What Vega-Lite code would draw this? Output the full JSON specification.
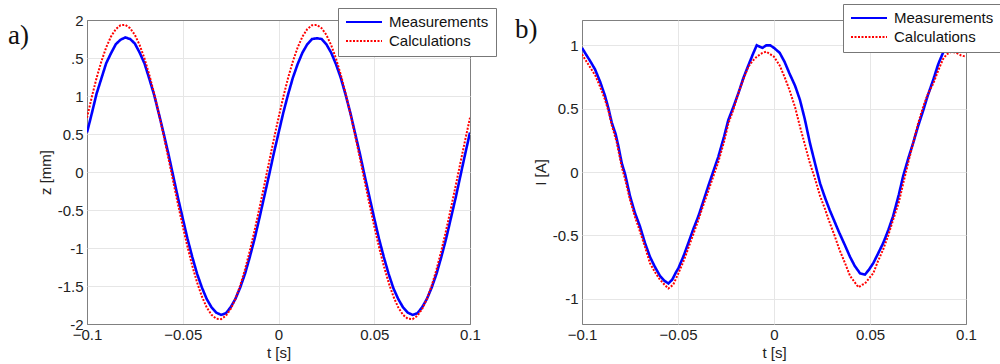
{
"$schema": "https://vega.github.io/schema/vega-lite/v6.json",
"background": "white",
"padding": {"left": 7, "top": 3, "right": 1, "bottom": 0},
"spacing": 112,
"bounds": "flush",
"resolve": {"scale": {"color": "independent", "strokeDash": "independent"}, "legend": {"color": "independent", "strokeDash": "independent"}},
"config": {
  "font": "Liberation Sans",
  "view": {"stroke": "#808080", "strokeWidth": 1},
  "axis": {"labelFont": "Liberation Sans", "labelFontSize": 15, "labelColor": "#222", "titleFont": "Liberation Sans", "titleFontSize": 15, "titleFontWeight": "normal", "titleColor": "#222", "grid": true, "gridWidth": 1, "ticks": false, "domain": false, "labelPadding": 4, "titlePadding": 4, "labelFlush": false, "labelOverlap": false},
  "axisX": {"labelPadding": 3, "titlePadding": 3},
  "legend": {"labelFont": "Liberation Sans", "labelFontSize": 15, "labelColor": "#111", "strokeColor": "#777", "fillColor": "white", "padding": 7, "rowPadding": 4, "clipHeight": 14, "symbolType": "stroke", "symbolSize": 1296, "symbolStrokeWidth": 2, "labelOffset": 6, "cornerRadius": 0}
},
"datasets": {
"za": [
{"t":-0.1,"v":0.52,"s":"Measurements"},{"t":-0.0975,"v":0.77,"s":"Measurements"},{"t":-0.095,"v":1.03,"s":"Measurements"},{"t":-0.0925,"v":1.23,"s":"Measurements"},{"t":-0.09,"v":1.43,"s":"Measurements"},{"t":-0.0875,"v":1.56,"s":"Measurements"},{"t":-0.085,"v":1.68,"s":"Measurements"},{"t":-0.0825,"v":1.74,"s":"Measurements"},{"t":-0.08,"v":1.77,"s":"Measurements"},{"t":-0.0775,"v":1.75,"s":"Measurements"},{"t":-0.075,"v":1.69,"s":"Measurements"},{"t":-0.0725,"v":1.57,"s":"Measurements"},{"t":-0.07,"v":1.43,"s":"Measurements"},{"t":-0.0675,"v":1.23,"s":"Measurements"},{"t":-0.065,"v":1.02,"s":"Measurements"},{"t":-0.0625,"v":0.77,"s":"Measurements"},{"t":-0.06,"v":0.51,"s":"Measurements"},{"t":-0.0575,"v":0.24,"s":"Measurements"},{"t":-0.055,"v":-0.05,"s":"Measurements"},{"t":-0.0525,"v":-0.34,"s":"Measurements"},{"t":-0.05,"v":-0.61,"s":"Measurements"},{"t":-0.0475,"v":-0.88,"s":"Measurements"},{"t":-0.045,"v":-1.12,"s":"Measurements"},{"t":-0.0425,"v":-1.34,"s":"Measurements"},{"t":-0.04,"v":-1.52,"s":"Measurements"},{"t":-0.0375,"v":-1.67,"s":"Measurements"},{"t":-0.035,"v":-1.78,"s":"Measurements"},{"t":-0.0325,"v":-1.85,"s":"Measurements"},{"t":-0.03,"v":-1.88,"s":"Measurements"},{"t":-0.0275,"v":-1.86,"s":"Measurements"},{"t":-0.025,"v":-1.78,"s":"Measurements"},{"t":-0.0225,"v":-1.67,"s":"Measurements"},{"t":-0.02,"v":-1.52,"s":"Measurements"},{"t":-0.0175,"v":-1.34,"s":"Measurements"},{"t":-0.015,"v":-1.12,"s":"Measurements"},{"t":-0.0125,"v":-0.88,"s":"Measurements"},{"t":-0.01,"v":-0.61,"s":"Measurements"},{"t":-0.0075,"v":-0.33,"s":"Measurements"},{"t":-0.005,"v":-0.05,"s":"Measurements"},{"t":-0.0025,"v":0.24,"s":"Measurements"},
{"t":0,"v":0.51,"s":"Measurements"},{"t":0.0025,"v":0.78,"s":"Measurements"},{"t":0.005,"v":1.02,"s":"Measurements"},{"t":0.0075,"v":1.24,"s":"Measurements"},{"t":0.01,"v":1.42,"s":"Measurements"},{"t":0.0125,"v":1.57,"s":"Measurements"},{"t":0.015,"v":1.68,"s":"Measurements"},{"t":0.0175,"v":1.75,"s":"Measurements"},{"t":0.02,"v":1.76,"s":"Measurements"},{"t":0.0225,"v":1.75,"s":"Measurements"},{"t":0.025,"v":1.68,"s":"Measurements"},{"t":0.0275,"v":1.57,"s":"Measurements"},{"t":0.03,"v":1.42,"s":"Measurements"},{"t":0.0325,"v":1.24,"s":"Measurements"},{"t":0.035,"v":1.02,"s":"Measurements"},{"t":0.0375,"v":0.78,"s":"Measurements"},{"t":0.04,"v":0.51,"s":"Measurements"},{"t":0.0425,"v":0.24,"s":"Measurements"},{"t":0.045,"v":-0.05,"s":"Measurements"},{"t":0.0475,"v":-0.33,"s":"Measurements"},{"t":0.05,"v":-0.61,"s":"Measurements"},{"t":0.0525,"v":-0.88,"s":"Measurements"},{"t":0.055,"v":-1.12,"s":"Measurements"},{"t":0.0575,"v":-1.34,"s":"Measurements"},{"t":0.06,"v":-1.53,"s":"Measurements"},{"t":0.0625,"v":-1.67,"s":"Measurements"},{"t":0.065,"v":-1.78,"s":"Measurements"},{"t":0.0675,"v":-1.85,"s":"Measurements"},{"t":0.07,"v":-1.88,"s":"Measurements"},{"t":0.0725,"v":-1.86,"s":"Measurements"},{"t":0.075,"v":-1.78,"s":"Measurements"},{"t":0.0775,"v":-1.67,"s":"Measurements"},{"t":0.08,"v":-1.52,"s":"Measurements"},{"t":0.0825,"v":-1.34,"s":"Measurements"},{"t":0.085,"v":-1.12,"s":"Measurements"},{"t":0.0875,"v":-0.88,"s":"Measurements"},{"t":0.09,"v":-0.61,"s":"Measurements"},{"t":0.0925,"v":-0.34,"s":"Measurements"},{"t":0.095,"v":-0.05,"s":"Measurements"},{"t":0.0975,"v":0.24,"s":"Measurements"},{"t":0.1,"v":0.52,"s":"Measurements"},
{"t":-0.1,"v":0.714,"s":"Calculations"},{"t":-0.0975,"v":0.987,"s":"Calculations"},{"t":-0.095,"v":1.237,"s":"Calculations"},{"t":-0.0925,"v":1.455,"s":"Calculations"},{"t":-0.09,"v":1.638,"s":"Calculations"},{"t":-0.0875,"v":1.781,"s":"Calculations"},{"t":-0.085,"v":1.879,"s":"Calculations"},{"t":-0.0825,"v":1.931,"s":"Calculations"},{"t":-0.08,"v":1.936,"s":"Calculations"},{"t":-0.0775,"v":1.893,"s":"Calculations"},{"t":-0.075,"v":1.804,"s":"Calculations"},{"t":-0.0725,"v":1.67,"s":"Calculations"},{"t":-0.07,"v":1.495,"s":"Calculations"},{"t":-0.0675,"v":1.283,"s":"Calculations"},{"t":-0.065,"v":1.039,"s":"Calculations"},{"t":-0.0625,"v":0.77,"s":"Calculations"},{"t":-0.06,"v":0.482,"s":"Calculations"},{"t":-0.0575,"v":0.183,"s":"Calculations"},{"t":-0.055,"v":-0.122,"s":"Calculations"},{"t":-0.0525,"v":-0.423,"s":"Calculations"},{"t":-0.05,"v":-0.714,"s":"Calculations"},{"t":-0.0475,"v":-0.987,"s":"Calculations"},{"t":-0.045,"v":-1.237,"s":"Calculations"},{"t":-0.0425,"v":-1.455,"s":"Calculations"},{"t":-0.04,"v":-1.638,"s":"Calculations"},{"t":-0.0375,"v":-1.781,"s":"Calculations"},{"t":-0.035,"v":-1.879,"s":"Calculations"},{"t":-0.0325,"v":-1.931,"s":"Calculations"},{"t":-0.03,"v":-1.936,"s":"Calculations"},{"t":-0.0275,"v":-1.893,"s":"Calculations"},{"t":-0.025,"v":-1.804,"s":"Calculations"},{"t":-0.0225,"v":-1.67,"s":"Calculations"},{"t":-0.02,"v":-1.495,"s":"Calculations"},{"t":-0.0175,"v":-1.283,"s":"Calculations"},{"t":-0.015,"v":-1.039,"s":"Calculations"},{"t":-0.0125,"v":-0.77,"s":"Calculations"},{"t":-0.01,"v":-0.482,"s":"Calculations"},{"t":-0.0075,"v":-0.183,"s":"Calculations"},{"t":-0.005,"v":0.122,"s":"Calculations"},{"t":-0.0025,"v":0.423,"s":"Calculations"},
{"t":0,"v":0.714,"s":"Calculations"},{"t":0.0025,"v":0.987,"s":"Calculations"},{"t":0.005,"v":1.237,"s":"Calculations"},{"t":0.0075,"v":1.455,"s":"Calculations"},{"t":0.01,"v":1.638,"s":"Calculations"},{"t":0.0125,"v":1.781,"s":"Calculations"},{"t":0.015,"v":1.879,"s":"Calculations"},{"t":0.0175,"v":1.931,"s":"Calculations"},{"t":0.02,"v":1.936,"s":"Calculations"},{"t":0.0225,"v":1.893,"s":"Calculations"},{"t":0.025,"v":1.804,"s":"Calculations"},{"t":0.0275,"v":1.67,"s":"Calculations"},{"t":0.03,"v":1.495,"s":"Calculations"},{"t":0.0325,"v":1.283,"s":"Calculations"},{"t":0.035,"v":1.039,"s":"Calculations"},{"t":0.0375,"v":0.77,"s":"Calculations"},{"t":0.04,"v":0.482,"s":"Calculations"},{"t":0.0425,"v":0.183,"s":"Calculations"},{"t":0.045,"v":-0.122,"s":"Calculations"},{"t":0.0475,"v":-0.423,"s":"Calculations"},{"t":0.05,"v":-0.714,"s":"Calculations"},{"t":0.0525,"v":-0.987,"s":"Calculations"},{"t":0.055,"v":-1.237,"s":"Calculations"},{"t":0.0575,"v":-1.455,"s":"Calculations"},{"t":0.06,"v":-1.638,"s":"Calculations"},{"t":0.0625,"v":-1.781,"s":"Calculations"},{"t":0.065,"v":-1.879,"s":"Calculations"},{"t":0.0675,"v":-1.931,"s":"Calculations"},{"t":0.07,"v":-1.936,"s":"Calculations"},{"t":0.0725,"v":-1.893,"s":"Calculations"},{"t":0.075,"v":-1.804,"s":"Calculations"},{"t":0.0775,"v":-1.67,"s":"Calculations"},{"t":0.08,"v":-1.495,"s":"Calculations"},{"t":0.0825,"v":-1.283,"s":"Calculations"},{"t":0.085,"v":-1.039,"s":"Calculations"},{"t":0.0875,"v":-0.77,"s":"Calculations"},{"t":0.09,"v":-0.482,"s":"Calculations"},{"t":0.0925,"v":-0.183,"s":"Calculations"},{"t":0.095,"v":0.122,"s":"Calculations"},{"t":0.0975,"v":0.423,"s":"Calculations"},{"t":0.1,"v":0.714,"s":"Calculations"}
],
"ib": [
{"t":-0.1,"v":0.98,"s":"Measurements"},{"t":-0.098,"v":0.93,"s":"Measurements"},{"t":-0.0955,"v":0.87,"s":"Measurements"},{"t":-0.0932,"v":0.81,"s":"Measurements"},{"t":-0.0905,"v":0.71,"s":"Measurements"},{"t":-0.088,"v":0.6,"s":"Measurements"},{"t":-0.0862,"v":0.5,"s":"Measurements"},{"t":-0.0845,"v":0.39,"s":"Measurements"},{"t":-0.0825,"v":0.3,"s":"Measurements"},{"t":-0.081,"v":0.2,"s":"Measurements"},{"t":-0.0793,"v":0.07,"s":"Measurements"},{"t":-0.0775,"v":-0.02,"s":"Measurements"},{"t":-0.075,"v":-0.19,"s":"Measurements"},{"t":-0.0725,"v":-0.32,"s":"Measurements"},{"t":-0.0698,"v":-0.43,"s":"Measurements"},{"t":-0.0672,"v":-0.56,"s":"Measurements"},{"t":-0.0646,"v":-0.67,"s":"Measurements"},{"t":-0.062,"v":-0.75,"s":"Measurements"},{"t":-0.0594,"v":-0.82,"s":"Measurements"},{"t":-0.057,"v":-0.86,"s":"Measurements"},{"t":-0.055,"v":-0.88,"s":"Measurements"},{"t":-0.053,"v":-0.85,"s":"Measurements"},{"t":-0.051,"v":-0.79,"s":"Measurements"},{"t":-0.0498,"v":-0.76,"s":"Measurements"},{"t":-0.047,"v":-0.66,"s":"Measurements"},{"t":-0.0446,"v":-0.56,"s":"Measurements"},{"t":-0.042,"v":-0.45,"s":"Measurements"},{"t":-0.0394,"v":-0.35,"s":"Measurements"},{"t":-0.037,"v":-0.24,"s":"Measurements"},{"t":-0.0342,"v":-0.11,"s":"Measurements"},{"t":-0.0315,"v":0.01,"s":"Measurements"},{"t":-0.029,"v":0.12,"s":"Measurements"},{"t":-0.026,"v":0.28,"s":"Measurements"},{"t":-0.0238,"v":0.41,"s":"Measurements"},{"t":-0.021,"v":0.52,"s":"Measurements"},{"t":-0.0186,"v":0.62,"s":"Measurements"},{"t":-0.016,"v":0.74,"s":"Measurements"},{"t":-0.0134,"v":0.84,"s":"Measurements"},{"t":-0.011,"v":0.93,"s":"Measurements"},{"t":-0.009,"v":1.0,"s":"Measurements"},{"t":-0.006,"v":0.98,"s":"Measurements"},{"t":-0.004,"v":1.0,"s":"Measurements"},{"t":-0.002,"v":1.0,"s":"Measurements"},{"t":0,"v":0.98,"s":"Measurements"},{"t":0.003,"v":0.94,"s":"Measurements"},{"t":0.0055,"v":0.87,"s":"Measurements"},{"t":0.008,"v":0.78,"s":"Measurements"},{"t":0.011,"v":0.68,"s":"Measurements"},{"t":0.0135,"v":0.57,"s":"Measurements"},{"t":0.016,"v":0.42,"s":"Measurements"},{"t":0.0187,"v":0.23,"s":"Measurements"},{"t":0.0215,"v":0.06,"s":"Measurements"},{"t":0.024,"v":-0.09,"s":"Measurements"},{"t":0.0265,"v":-0.2,"s":"Measurements"},{"t":0.029,"v":-0.3,"s":"Measurements"},{"t":0.0315,"v":-0.39,"s":"Measurements"},{"t":0.034,"v":-0.48,"s":"Measurements"},{"t":0.037,"v":-0.58,"s":"Measurements"},{"t":0.0396,"v":-0.67,"s":"Measurements"},{"t":0.042,"v":-0.74,"s":"Measurements"},{"t":0.0448,"v":-0.8,"s":"Measurements"},{"t":0.0474,"v":-0.81,"s":"Measurements"},{"t":0.0495,"v":-0.77,"s":"Measurements"},{"t":0.0517,"v":-0.72,"s":"Measurements"},{"t":0.054,"v":-0.65,"s":"Measurements"},{"t":0.0569,"v":-0.56,"s":"Measurements"},{"t":0.0595,"v":-0.46,"s":"Measurements"},{"t":0.062,"v":-0.35,"s":"Measurements"},{"t":0.065,"v":-0.18,"s":"Measurements"},{"t":0.0673,"v":-0.03,"s":"Measurements"},{"t":0.07,"v":0.11,"s":"Measurements"},{"t":0.0725,"v":0.23,"s":"Measurements"},{"t":0.075,"v":0.36,"s":"Measurements"},{"t":0.0778,"v":0.49,"s":"Measurements"},{"t":0.08,"v":0.6,"s":"Measurements"},{"t":0.083,"v":0.73,"s":"Measurements"},{"t":0.0855,"v":0.85,"s":"Measurements"},{"t":0.088,"v":0.94,"s":"Measurements"},{"t":0.0905,"v":1.0,"s":"Measurements"},{"t":0.093,"v":1.04,"s":"Measurements"},{"t":0.096,"v":1.07,"s":"Measurements"},{"t":0.1,"v":1.05,"s":"Measurements"},
{"t":-0.1,"v":0.93,"s":"Calculations"},{"t":-0.098,"v":0.88,"s":"Calculations"},{"t":-0.0955,"v":0.82,"s":"Calculations"},{"t":-0.093,"v":0.76,"s":"Calculations"},{"t":-0.0905,"v":0.67,"s":"Calculations"},{"t":-0.088,"v":0.57,"s":"Calculations"},{"t":-0.086,"v":0.47,"s":"Calculations"},{"t":-0.0845,"v":0.37,"s":"Calculations"},{"t":-0.082,"v":0.24,"s":"Calculations"},{"t":-0.0793,"v":0.04,"s":"Calculations"},{"t":-0.0775,"v":-0.06,"s":"Calculations"},{"t":-0.075,"v":-0.22,"s":"Calculations"},{"t":-0.0725,"v":-0.35,"s":"Calculations"},{"t":-0.0698,"v":-0.47,"s":"Calculations"},{"t":-0.067,"v":-0.6,"s":"Calculations"},{"t":-0.0646,"v":-0.72,"s":"Calculations"},{"t":-0.062,"v":-0.79,"s":"Calculations"},{"t":-0.0594,"v":-0.85,"s":"Calculations"},{"t":-0.057,"v":-0.89,"s":"Calculations"},{"t":-0.055,"v":-0.92,"s":"Calculations"},{"t":-0.0525,"v":-0.89,"s":"Calculations"},{"t":-0.0498,"v":-0.8,"s":"Calculations"},{"t":-0.047,"v":-0.7,"s":"Calculations"},{"t":-0.0446,"v":-0.6,"s":"Calculations"},{"t":-0.042,"v":-0.49,"s":"Calculations"},{"t":-0.0394,"v":-0.38,"s":"Calculations"},{"t":-0.037,"v":-0.27,"s":"Calculations"},{"t":-0.0342,"v":-0.15,"s":"Calculations"},{"t":-0.0315,"v":-0.03,"s":"Calculations"},{"t":-0.029,"v":0.08,"s":"Calculations"},{"t":-0.026,"v":0.24,"s":"Calculations"},{"t":-0.0238,"v":0.38,"s":"Calculations"},{"t":-0.021,"v":0.5,"s":"Calculations"},{"t":-0.0186,"v":0.62,"s":"Calculations"},{"t":-0.016,"v":0.73,"s":"Calculations"},{"t":-0.0134,"v":0.83,"s":"Calculations"},{"t":-0.011,"v":0.88,"s":"Calculations"},{"t":-0.009,"v":0.91,"s":"Calculations"},{"t":-0.006,"v":0.94,"s":"Calculations"},{"t":-0.004,"v":0.95,"s":"Calculations"},{"t":-0.002,"v":0.93,"s":"Calculations"},{"t":0,"v":0.91,"s":"Calculations"},{"t":0.003,"v":0.84,"s":"Calculations"},{"t":0.0055,"v":0.75,"s":"Calculations"},{"t":0.008,"v":0.65,"s":"Calculations"},{"t":0.011,"v":0.51,"s":"Calculations"},{"t":0.0135,"v":0.36,"s":"Calculations"},{"t":0.016,"v":0.22,"s":"Calculations"},{"t":0.0187,"v":0.07,"s":"Calculations"},{"t":0.0215,"v":-0.06,"s":"Calculations"},{"t":0.024,"v":-0.19,"s":"Calculations"},{"t":0.0265,"v":-0.29,"s":"Calculations"},{"t":0.029,"v":-0.4,"s":"Calculations"},{"t":0.0315,"v":-0.5,"s":"Calculations"},{"t":0.034,"v":-0.61,"s":"Calculations"},{"t":0.037,"v":-0.72,"s":"Calculations"},{"t":0.0396,"v":-0.82,"s":"Calculations"},{"t":0.042,"v":-0.87,"s":"Calculations"},{"t":0.044,"v":-0.91,"s":"Calculations"},{"t":0.046,"v":-0.89,"s":"Calculations"},{"t":0.0474,"v":-0.88,"s":"Calculations"},{"t":0.0495,"v":-0.84,"s":"Calculations"},{"t":0.0517,"v":-0.8,"s":"Calculations"},{"t":0.054,"v":-0.71,"s":"Calculations"},{"t":0.0569,"v":-0.61,"s":"Calculations"},{"t":0.0595,"v":-0.5,"s":"Calculations"},{"t":0.062,"v":-0.38,"s":"Calculations"},{"t":0.065,"v":-0.24,"s":"Calculations"},{"t":0.0673,"v":-0.09,"s":"Calculations"},{"t":0.07,"v":0.08,"s":"Calculations"},{"t":0.0725,"v":0.23,"s":"Calculations"},{"t":0.075,"v":0.38,"s":"Calculations"},{"t":0.0778,"v":0.52,"s":"Calculations"},{"t":0.08,"v":0.61,"s":"Calculations"},{"t":0.083,"v":0.7,"s":"Calculations"},{"t":0.0855,"v":0.8,"s":"Calculations"},{"t":0.088,"v":0.89,"s":"Calculations"},{"t":0.09,"v":0.93,"s":"Calculations"},{"t":0.0925,"v":0.95,"s":"Calculations"},{"t":0.095,"v":0.94,"s":"Calculations"},{"t":0.0975,"v":0.92,"s":"Calculations"},{"t":0.1,"v":0.91,"s":"Calculations"}
]
},
"hconcat": [
{
  "width": 383, "height": 304,
  "title": {"text": "a)", "orient": "top", "anchor": "start", "frame": "group", "offset": -42, "dx": -79, "font": "Liberation Serif", "fontSize": 27, "fontWeight": "normal", "color": "#111", "align": "left"},
  "data": {"name": "za"},
  "encoding": {
    "x": {"field": "t", "type": "quantitative", "scale": {"domain": [-0.1, 0.1], "nice": false, "zero": false}, "axis": {"values": [-0.1, -0.05, 0, 0.05, 0.1], "format": "~g", "title": "t [s]", "gridColor": {"condition": {"test": "abs(datum.value) > 0.099", "value": "#808080"}, "value": "#e6e6e6"}}},
    "y": {"field": "v", "type": "quantitative", "scale": {"domain": [-2, 2], "nice": false}, "axis": {"values": [-2, -1.5, -1, -0.5, 0, 0.5, 1, 1.5, 2], "labelExpr": "datum.value == 1.5 ? '.5' : replace(format(datum.value, '~g'), '\u2212', '-')", "title": "z [mm]", "gridColor": {"condition": {"test": "abs(datum.value) > 1.99", "value": "#808080"}, "value": "#e6e6e6"}}},
    "color": {"field": "s", "type": "nominal", "scale": {"domain": ["Measurements", "Calculations"], "range": ["#0000ff", "#ff0000"]}, "legend": {"title": null, "orient": "none", "legendX": 251, "legendY": -12}},
    "strokeDash": {"field": "s", "type": "nominal", "scale": {"domain": ["Measurements", "Calculations"], "range": [[1, 0], [2, 1.5]]}, "legend": {"title": null, "orient": "none", "legendX": 251, "legendY": -12}}
  },
  "layer": [
    {"transform": [{"filter": "datum.s == 'Measurements'"}], "mark": {"type": "line", "clip": true, "strokeWidth": 2.6}},
    {"transform": [{"filter": "datum.s == 'Calculations'"}], "mark": {"type": "line", "clip": true, "strokeWidth": 2}}
  ]
},
{
  "width": 384, "height": 304,
  "title": {"text": "b)", "orient": "top", "anchor": "start", "frame": "group", "offset": -40, "dx": -67, "font": "Liberation Serif", "fontSize": 27, "fontWeight": "normal", "color": "#111", "align": "left"},
  "data": {"name": "ib"},
  "encoding": {
    "x": {"field": "t", "type": "quantitative", "scale": {"domain": [-0.1, 0.1], "nice": false, "zero": false}, "axis": {"values": [-0.1, -0.05, 0, 0.05, 0.1], "format": "~g", "title": "t [s]", "gridColor": {"condition": {"test": "abs(datum.value) > 0.099", "value": "#808080"}, "value": "#e6e6e6"}}},
    "y": {"field": "v", "type": "quantitative", "scale": {"domain": [-1.2, 1.2], "nice": false}, "axis": {"values": [-1, -0.5, 0, 0.5, 1], "labelExpr": "replace(format(datum.value, '~g'), '\u2212', '-')", "title": "I [A]", "gridColor": "#e6e6e6"}},
    "color": {"field": "s", "type": "nominal", "scale": {"domain": ["Measurements", "Calculations"], "range": ["#0000ff", "#ff0000"]}, "legend": {"title": null, "orient": "none", "legendX": 261, "legendY": -16}},
    "strokeDash": {"field": "s", "type": "nominal", "scale": {"domain": ["Measurements", "Calculations"], "range": [[1, 0], [2, 1.5]]}, "legend": {"title": null, "orient": "none", "legendX": 261, "legendY": -16}}
  },
  "layer": [
    {"transform": [{"filter": "datum.s == 'Measurements'"}], "mark": {"type": "line", "clip": true, "strokeWidth": 2.6}},
    {"transform": [{"filter": "datum.s == 'Calculations'"}], "mark": {"type": "line", "clip": true, "strokeWidth": 2}}
  ]
}
]
}
